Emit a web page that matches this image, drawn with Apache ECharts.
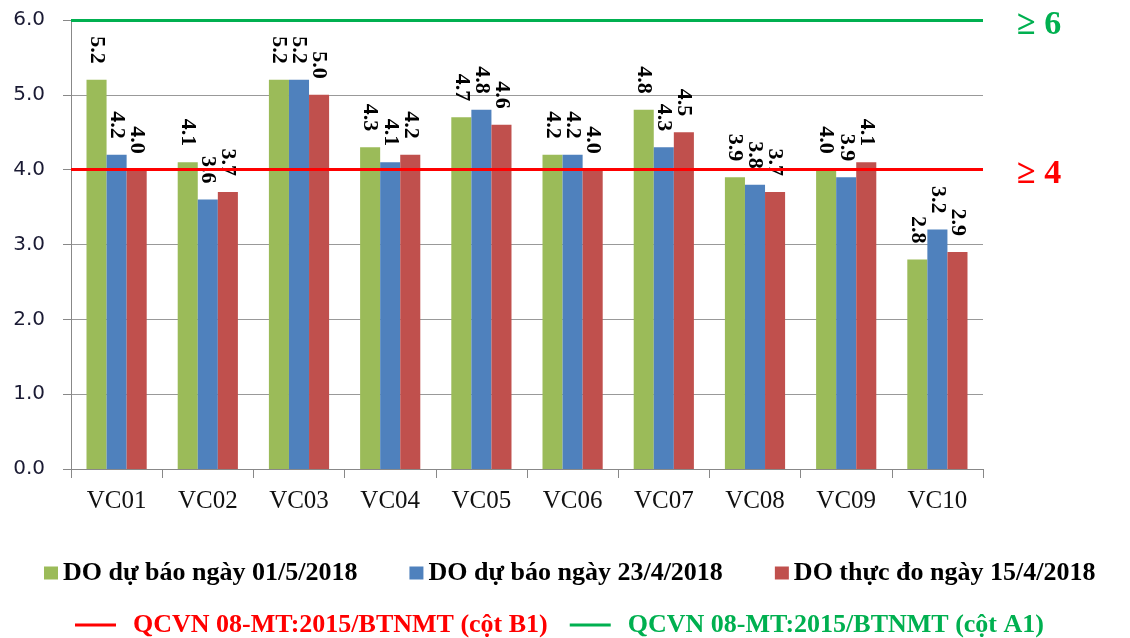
<!DOCTYPE html>
<html>
<head>
<meta charset="utf-8">
<script src="https://cdn.jsdelivr.net/npm/echarts@6/dist/echarts.min.js"></script>
<style>
  html, body { margin: 0; padding: 0; background: #fff; }
  #chart1 { width: 1130px; height: 638px; }
</style>
</head>
<body>
<div id="chart1"></div>
<script>
var categories = ['VC01', 'VC02', 'VC03', 'VC04', 'VC05', 'VC06', 'VC07', 'VC08', 'VC09', 'VC10'];
var doForecast0105 = [5.2, 4.1, 5.2, 4.3, 4.7, 4.2, 4.8, 3.9, 4.0, 2.8];
var doForecast2304 = [4.2, 3.6, 5.2, 4.1, 4.8, 4.2, 4.3, 3.8, 3.9, 3.2];
var doMeasured1504 = [4.0, 3.7, 5.0, 4.2, 4.6, 4.0, 4.5, 3.7, 4.1, 2.9];
var yTicks = [0, 1, 2, 3, 4, 5, 6];
var limitB1 = 4;
var limitA1 = 6;

var serif = '"Liberation Serif", "DejaVu Serif", serif';

(function(){

    var barLabel = {
        show: true,
        position: 'top',
        distance: 16,
        rotate: -90,
        align: 'right',
        verticalAlign: 'middle',
        fontFamily: serif,
        fontWeight: 'bold',
        fontSize: 22,
        color: '#000',
        formatter: function(p){ return p.value.toFixed(1); }
    };

    function barSeries(name, data, color){
        return {
            name: name,
            type: 'bar',
            data: data,
            barGap: '0%',
            barCategoryGap: '34%',
            itemStyle: { color: color },
            label: barLabel
        };
    }

    function limitSeries(name, value, color){
        return {
            name: name,
            type: 'line',
            data: [],
            symbol: 'none',
            itemStyle: { color: color },
            lineStyle: { color: color, width: 3 },
            markLine: {
                silent: true,
                symbol: ['none', 'none'],
                lineStyle: { color: color, width: 3, type: 'solid' },
                label: {
                    show: true,
                    position: 'end',
                    distance: 34,
                    offset: [0, 5],
                    formatter: '\u2265 ' + value,
                    fontFamily: serif,
                    fontWeight: 'bold',
                    fontSize: 34,
                    color: color
                },
                data: [{ yAxis: value }]
            }
        };
    }

    var chart1 = echarts.init(document.getElementById('chart1'));

    var option = {
        animation: false,
        grid: { left: 71, right: 147, top: 20, bottom: 169 },
        legend: [
            {
                top: 555,
                left: 39,
                itemWidth: 14,
                itemHeight: 13,
                itemGap: 52,
                icon: 'rect',
                textStyle: { fontFamily: serif, fontWeight: 'bold', fontSize: 26, color: '#000' },
                data: ['DO dự báo ngày 01/5/2018', 'DO dự báo ngày 23/4/2018', 'DO thực đo ngày 15/4/2018']
            },
            {
                top: 607,
                left: 70,
                itemWidth: 41,
                itemHeight: 3,
                itemGap: 22,
                icon: 'rect',
                textStyle: { fontFamily: serif, fontWeight: 'bold', fontSize: 26, padding: [0, 0, 0, 12] },
                data: [
                    { name: 'QCVN 08-MT:2015/BTNMT (cột B1)', textStyle: { color: '#FF0000' } },
                    { name: 'QCVN 08-MT:2015/BTNMT (cột A1)', textStyle: { color: '#00B050' } }
                ]
            }
        ],
        xAxis: {
            type: 'category',
            data: categories,
            axisLine: { lineStyle: { color: '#888', width: 1 } },
            axisTick: { show: true, length: 9, lineStyle: { color: '#888' } },
            axisLabel: { margin: 20, fontFamily: serif, fontSize: 25, color: '#111' }
        },
        yAxis: {
            type: 'value',
            min: yTicks[0],
            max: yTicks[yTicks.length - 1],
            interval: 1,
            axisLine: { show: true, lineStyle: { color: '#888', width: 1 } },
            axisTick: { show: true, length: 8, lineStyle: { color: '#888' } },
            splitLine: { lineStyle: { color: '#999', width: 1 } },
            axisLabel: {
                margin: 26,
                fontFamily: '"DejaVu Sans", Verdana, sans-serif',
                fontSize: 20,
                color: '#1a1a33',
                formatter: function(v){ return v.toFixed(1); }
            }
        },
        series: [
            barSeries('DO dự báo ngày 01/5/2018', doForecast0105, '#9BBB59'),
            barSeries('DO dự báo ngày 23/4/2018', doForecast2304, '#4F81BD'),
            barSeries('DO thực đo ngày 15/4/2018', doMeasured1504, '#C0504D'),
            limitSeries('QCVN 08-MT:2015/BTNMT (cột B1)', limitB1, '#FF0000'),
            limitSeries('QCVN 08-MT:2015/BTNMT (cột A1)', limitA1, '#00B050')
        ]
    };

    chart1.setOption(option);
    window.onresize = chart1.resize;

})();
</script>
</body>
</html>
